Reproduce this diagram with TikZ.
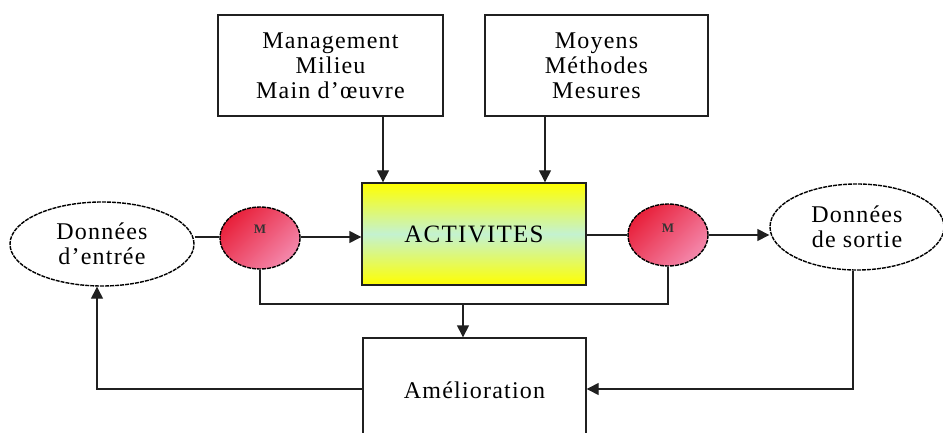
\documentclass[tikz,border=0pt]{standalone}
\usepackage{fontspec}
\setmainfont{Liberation Serif}[LetterSpace=5]
\usetikzlibrary{arrows.meta,shapes.geometric}

\definecolor{inkline}{HTML}{202020}
\definecolor{mred}{HTML}{E8203A}
\definecolor{mpink}{HTML}{F488AC}
\definecolor{actmid}{HTML}{C4F2D0}

\tikzset{
  conn/.style={draw=inkline, line width=1.4pt},
  arr/.style={conn, -{Triangle[length=12pt,width=12pt]}},
  plainbox/.style={draw=inkline, line width=1.4pt, fill=white, rectangle, inner sep=0pt,
    align=center, font=\fontsize{24}{25}\selectfont},
  databox/.style={ellipse, draw=black, dash pattern=on 4pt off 1pt, line width=1.4pt,
    fill=white, inner sep=0pt, align=center, font=\fontsize{24}{25}\selectfont},
  measure/.style={ellipse, draw=black, dash pattern=on 4pt off 1pt, line width=1.4pt,
    left color=mred, right color=mpink, shading angle=45, inner sep=0pt,
    minimum width=80pt, minimum height=62pt},
  mlabel/.style={font=\fontsize{13}{13}\selectfont\bfseries, text=black!80},
}

\begin{document}
\begin{tikzpicture}[x=1pt, y=-1pt]
  \useasboundingbox (0,0) rectangle (943,433);
  \clip (0,0) rectangle (943,433);
  \fill[white] (0,0) rectangle (943,433);

  % resource boxes
  \node[plainbox, minimum width=225pt, minimum height=101pt] (mgmt) at (330.5,65.5)
    {Management\\Milieu\\Main d'\oe uvre};
  \node[plainbox, minimum width=223pt, minimum height=101pt] (moy) at (596.5,65.5)
    {Moyens\\Méthodes\\Mesures};

  % central activity box
  \node[draw=inkline, line width=1.4pt, rectangle, minimum width=224pt, minimum height=102pt,
        top color=yellow, bottom color=yellow, middle color=actmid, inner sep=0pt,
        font=\fontsize{25}{25}\selectfont] (act) at (474,234) {ACTIVITES};

  % improvement box (runs past the lower edge)
  \node[plainbox, minimum width=223pt, minimum height=104pt] (amel) at (474.5,390)
    {Amélioration};

  % input / output data
  \node[databox, minimum width=184pt, minimum height=84pt] (din) at (102,244)
    {Données\\d'entrée};
  \node[databox, minimum width=174pt, minimum height=86pt] (dout) at (857,227)
    {Données\\de sortie};

  % measurement points
  \node[measure] (m1) at (260,238) {};
  \node[mlabel] at (260,229) {M};
  \node[measure] (m2) at (668,235) {};
  \node[mlabel] at (668,228) {M};

  % helper points
  \coordinate (split) at (463,304);
  \coordinate (fbL) at (97,389);
  \coordinate (fbR) at (853,389);

  % flow
  \draw[arr] (mgmt.south -| 383,0) -- (act.north -| 383,0);
  \draw[arr] (moy.south -| 545,0) -- (act.north -| 545,0);
  \draw[conn] (din.east |- 0,237) -- (m1.west |- 0,237);
  \draw[arr] (m1.east |- 0,237) -- (act.west |- 0,237);
  \draw[conn] (act.east |- 0,235) -- (m2.west |- 0,235);
  \draw[arr] (m2.east |- 0,235) -- (dout.west |- 0,235);

  % measurement feedback into improvement
  \draw[conn] (m1.south) |- (split) -| (m2.south);
  \draw[arr] (split) -- (amel.north -| split);

  % improvement loops
  \draw[arr] (amel.west |- fbL) -- (fbL) -- (din.south -| fbL);
  \draw[arr] (dout.south -| fbR) -- (fbR) -- (amel.east |- fbR);
\end{tikzpicture}
\end{document}
